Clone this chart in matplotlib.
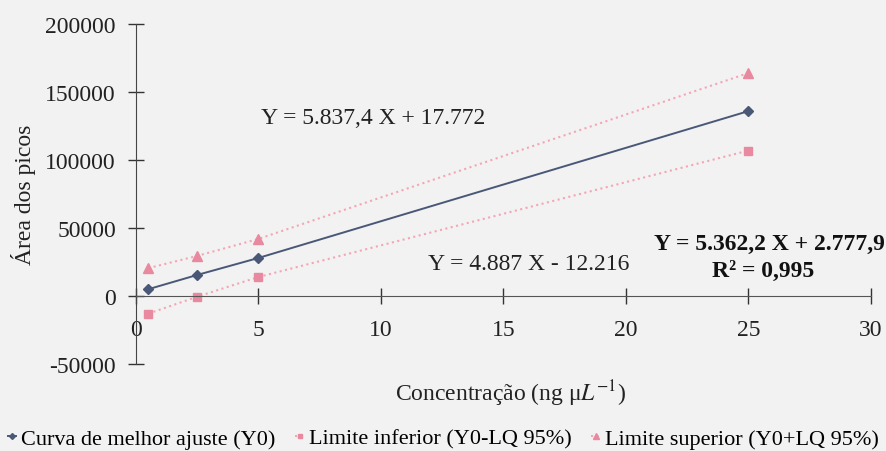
import matplotlib.pyplot as plt

plt.rcParams['font.family'] = ['Liberation Serif', 'DejaVu Serif']
plt.rcParams['mathtext.fontset'] = 'stix'
plt.rcParams['axes.unicode_minus'] = False

conc = [0.5, 2.5, 5, 25]
y_fit = [5000, 15500, 28000, 136000]
y_low = [-13000, -500, 14000, 107000]
y_up = [20500, 29500, 42000, 164000]

fig = plt.figure(figsize=(8.86, 4.52), dpi=100)
fig.patch.set_facecolor('#f2f2f2')
ax = fig.add_axes([0.1535, 0.1925, 0.8295, 0.752])
ax.set_facecolor('#f2f2f2')

ax.plot(conc, y_up, ':', color='#f2a6b6', lw=1.5, marker='^', ms=7,
        mfc='#e8899f', mec='#e8899f', label='Limite superior (Y0+LQ 95%)')
ax.plot(conc, y_low, ':', color='#f2a6b6', lw=1.5, marker='s', ms=6,
        mfc='#e8899f', mec='#e8899f', label='Limite inferior (Y0-LQ 95%)')
ax.plot(conc, y_fit, '-', color='#4a5878', lw=1.4, marker='D', ms=5,
        mfc='#4a5878', mec='#4a5878', label='Curva de melhor ajuste (Y0)')

ax.set_xlim(0, 30)
ax.set_ylim(-50000, 200000)
ax.set_xticks(range(0, 31, 5))
ax.set_yticks(range(-50000, 200001, 50000))
ax.spines['left'].set_position(('data', 0))
ax.spines['bottom'].set_position(('data', 0))
ax.spines['top'].set_visible(False)
ax.spines['right'].set_visible(False)
ax.spines['left'].set_color('#444444')
ax.spines['bottom'].set_color('#555555')
ax.tick_params(direction='inout', length=11, width=1, labelsize=17,
               colors='#333333', pad=9)
ax.tick_params(axis='x', pad=11)
ax.tick_params(labelcolor='#222222')

fig.text(0.026, 0.569, 'Área dos picos', rotation=90, fontsize=17,
         ha='center', va='center', color='#222222')
fig.text(0.576, 0.128, r'Concentração (ng μ$L^{-1}$)', fontsize=17,
         ha='center', va='center', color='#222222')

ax.text(5.1, 131000, 'Y = 5.837,4 X + 17.772', fontsize=17,
        va='center', color='#222222')
ax.text(11.9, 24000, 'Y = 4.887 X - 12.216', fontsize=17,
        va='center', color='#222222')
ax.text(30.55, 39000, 'Y = 5.362,2 X + 2.777,9', fontsize=17,
        fontweight='bold', ha='right', va='center', color='#111111')
ax.text(25.6, 19000, 'R² = 0,995', fontsize=17,
        fontweight='bold', ha='center', va='center', color='#111111')

h, l = ax.get_legend_handles_labels()
fig.legend(h[::-1], l[::-1], loc='center', bbox_to_anchor=(0.5, 0.028),
           ncol=3, frameon=False, fontsize=16, markerscale=0.6,
           handlelength=0.4, handletextpad=0.2, columnspacing=0.9,
           borderpad=0, borderaxespad=0)

fig.savefig('out.png', dpi=100, facecolor=fig.get_facecolor())
